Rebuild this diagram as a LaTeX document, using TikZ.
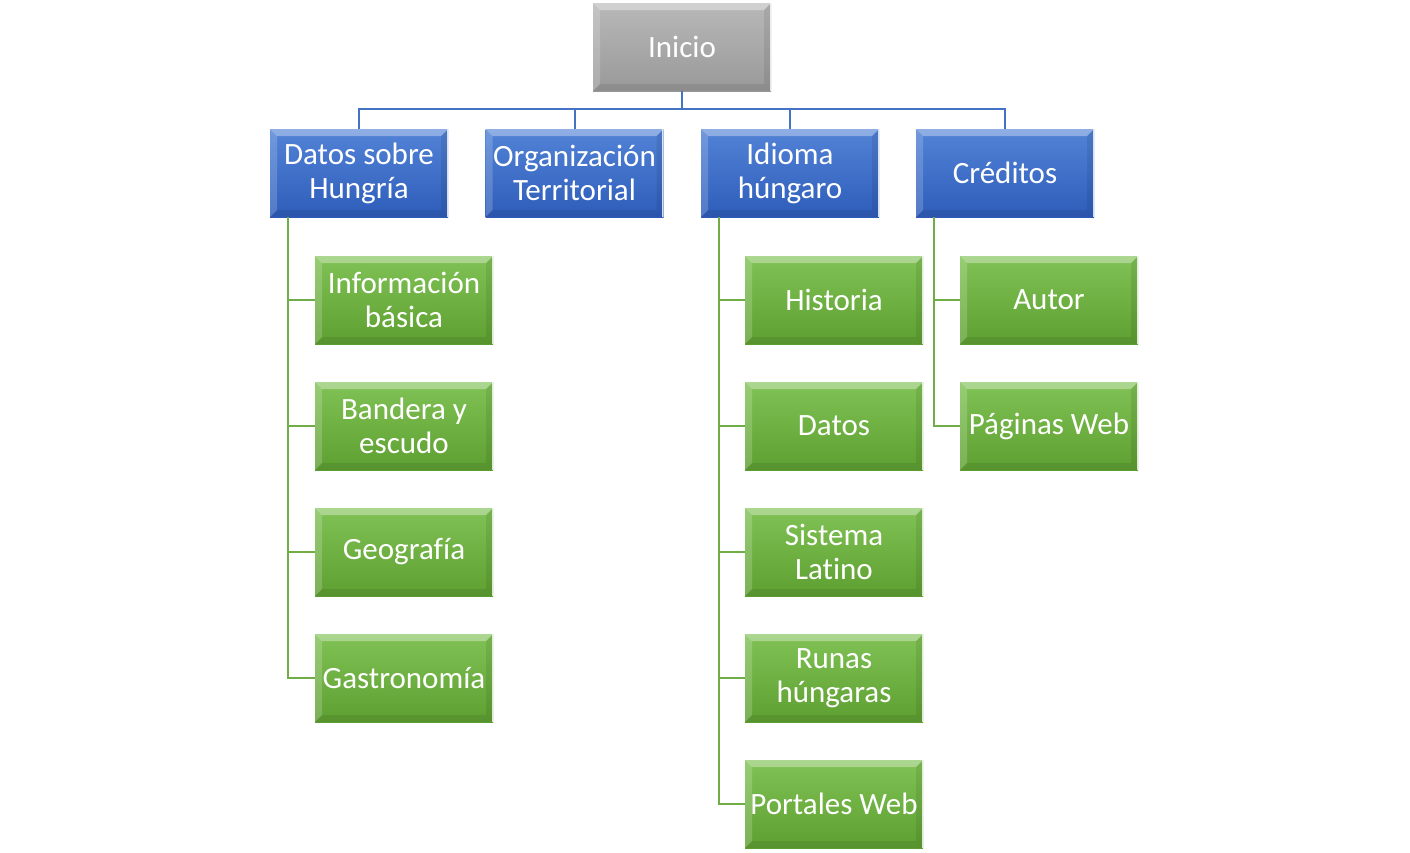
\documentclass[tikz,border=0pt]{standalone}
\usepackage{fontspec}
\setmainfont[Ligatures={NoCommon}]{Carlito}
\usetikzlibrary{calc}
\definecolor{gtop}{HTML}{B8B8B8}\definecolor{gbot}{HTML}{999999}
\definecolor{btop}{HTML}{5283D6}\definecolor{bbot}{HTML}{2E5DBA}
\definecolor{ftop}{HTML}{80C255}\definecolor{fbot}{HTML}{5E9F31}
\definecolor{bline}{HTML}{4472C4}\definecolor{fline}{HTML}{70AD47}
\tikzset{
  bevel/.style={path picture={
    \coordinate (SW) at (path picture bounding box.south west);
    \coordinate (NE) at (path picture bounding box.north east);
    \fill[white,opacity=.35] (SW|-NE) -- (NE) -- ($(NE)+(-7,7)$) -- ($(SW|-NE)+(7,7)$) -- cycle;
    \fill[white,opacity=.18] (SW) -- (SW|-NE) -- ($(SW|-NE)+(7,7)$) -- ($(SW)+(7,-7)$) -- cycle;
    \fill[black,opacity=.08] (NE) -- (NE|-SW) -- ($(NE|-SW)+(-7,-7)$) -- ($(NE)+(-7,7)$) -- cycle;
    \fill[black,opacity=.08] (SW) -- (NE|-SW) -- ($(NE|-SW)+(-7,-7)$) -- ($(SW)+(7,-7)$) -- cycle;
    \draw[white,opacity=.8,line width=1.5] ($(NE)+(-0.75,0)$) -- ($(NE|-SW)+(-0.75,0)$);
  }},
  box/.style={minimum width=178, minimum height=88, inner sep=0, align=center,
    text=white, font=\fontsize{31}{34}\selectfont, bevel},
  graybox/.style={box, top color=gtop, bottom color=gbot},
  bluebox/.style={box, top color=btop, bottom color=bbot},
  greenbox/.style={box, top color=ftop, bottom color=fbot},
  bl/.style={draw=bline, line width=2},
  gl/.style={draw=fline, line width=2},
}
\begin{document}
\begin{tikzpicture}[x=1pt,y=-1pt]
\useasboundingbox (0,0) rectangle (1410,852);
\node[graybox] (inicio) at (682,47) {Inicio};
\node[bluebox] (datos) at (359,173) {Datos sobre\\Hungría};
\node[bluebox] (org) at (574.5,173) {Organización\\Territorial};
\node[bluebox] (idioma) at (790,173) {Idioma\\húngaro};
\node[bluebox] (creditos) at (1005,173) {Créditos};
\node[greenbox] (info) at (404,300) {Información\\básica};
\node[greenbox] (bandera) at (404,426) {Bandera y\\escudo};
\node[greenbox] (geo) at (404,552) {Geografía};
\node[greenbox] (gastro) at (404,678) {Gastronomía};
\node[greenbox] (historia) at (834,300) {Historia};
\node[greenbox] (datos2) at (834,426) {Datos};
\node[greenbox] (sistema) at (834,552) {Sistema\\Latino};
\node[greenbox] (runas) at (834,678) {Runas\\húngaras};
\node[greenbox] (portales) at (834,804) {Portales Web};
\node[greenbox] (autor) at (1049,300) {Autor};
\node[greenbox] (paginas) at (1049,426) {Páginas Web};
\coordinate (bus) at (682,109);
\foreach \n in {datos,org,idioma,creditos}
  \draw[bl] (inicio.south) |- (\n.north |- bus) -- (\n.north);
\foreach \n in {info,bandera,geo,gastro}
  \draw[gl] ([xshift=18]datos.south west) |- (\n.west);
\foreach \n in {historia,datos2,sistema,runas,portales}
  \draw[gl] ([xshift=18]idioma.south west) |- (\n.west);
\foreach \n in {autor,paginas}
  \draw[gl] ([xshift=18]creditos.south west) |- (\n.west);
\end{tikzpicture}
\end{document}
